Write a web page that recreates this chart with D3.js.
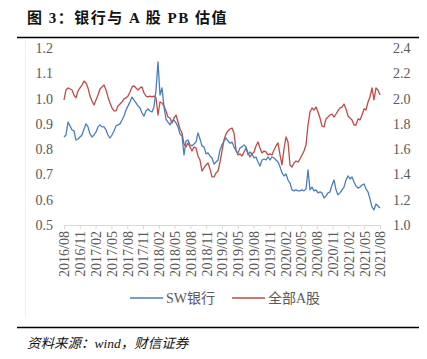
<!DOCTYPE html>
<html>
<head>
<meta charset="utf-8">
<script src="https://cdn.jsdelivr.net/npm/d3@7/dist/d3.min.js"></script>
<style>
  body { margin: 0; background: #fff; }
  svg { display: block; }
</style>
</head>
<body>
<div id="content"></div>
<script>
var width = 427;
var height = 359;

// quarterly tick labels
var tickLabels = ['2016/08', '2016/11', '2017/02', '2017/05', '2017/08', '2017/11',
                  '2018/02', '2018/05', '2018/08', '2018/11', '2019/02', '2019/05',
                  '2019/08', '2019/11', '2020/02', '2020/05', '2020/08', '2020/11',
                  '2021/02', '2021/05', '2021/08'];

// SW银行 PB (left axis), roughly every 11-12 days
var bankPB = [0.848, 0.856, 0.907, 0.892, 0.876, 0.872, 0.836, 0.840, 0.848, 0.856,
              0.880, 0.900, 0.888, 0.860, 0.848, 0.856, 0.868, 0.888, 0.896, 0.888,
              0.888, 0.876, 0.856, 0.844, 0.856, 0.872, 0.892, 0.896, 0.900, 0.915,
              0.931, 0.955, 0.971, 0.987, 1.006, 0.994, 0.983, 0.971, 0.963, 0.943,
              0.931, 0.951, 0.959, 0.951, 0.947, 0.967, 1.034, 1.145, 1.014, 1.042,
              0.967, 0.919, 0.907, 0.896, 0.911, 0.915, 0.904, 0.888, 0.860, 0.852,
              0.777, 0.832, 0.836, 0.817, 0.813, 0.820, 0.828, 0.864, 0.840, 0.813,
              0.809, 0.781, 0.785, 0.773, 0.765, 0.741, 0.749, 0.757, 0.797, 0.817,
              0.832, 0.844, 0.832, 0.824, 0.828, 0.809, 0.793, 0.785, 0.805, 0.809,
              0.817, 0.809, 0.777, 0.789, 0.781, 0.765, 0.769, 0.749, 0.733, 0.757,
              0.761, 0.757, 0.769, 0.757, 0.769, 0.765, 0.757, 0.749, 0.730, 0.706,
              0.694, 0.702, 0.678, 0.666, 0.639, 0.635, 0.639, 0.635, 0.635, 0.639,
              0.635, 0.643, 0.718, 0.639, 0.650, 0.635, 0.639, 0.627, 0.631, 0.627,
              0.607, 0.615, 0.627, 0.631, 0.658, 0.678, 0.639, 0.619, 0.627, 0.639,
              0.650, 0.678, 0.694, 0.682, 0.690, 0.670, 0.654, 0.646, 0.650, 0.658,
              0.662, 0.643, 0.631, 0.603, 0.571, 0.560, 0.583, 0.575, 0.567];

// 全部A股 PB (right axis)
var allAPB = [1.989, 2.068, 2.084, 2.076, 2.068, 2.028, 2.005, 2.060, 2.084, 2.107,
              2.139, 2.123, 2.084, 2.020, 1.981, 1.949, 1.989, 2.028, 2.076, 2.092,
              2.107, 2.068, 2.013, 1.965, 1.926, 1.902, 1.902, 1.941, 1.957, 1.973,
              1.997, 2.005, 2.020, 2.052, 2.092, 2.100, 2.084, 2.068, 2.084, 2.092,
              2.044, 2.020, 2.013, 2.020, 2.013, 2.020, 2.005, 1.870, 1.973, 1.965,
              1.941, 1.902, 1.854, 1.846, 1.807, 1.846, 1.870, 1.815, 1.759, 1.728,
              1.641, 1.617, 1.649, 1.617, 1.585, 1.617, 1.609, 1.546, 1.514, 1.427,
              1.451, 1.475, 1.491, 1.443, 1.380, 1.380, 1.411, 1.427, 1.498, 1.585,
              1.672, 1.720, 1.744, 1.759, 1.767, 1.728, 1.593, 1.554, 1.562, 1.546,
              1.578, 1.609, 1.570, 1.538, 1.562, 1.578, 1.625, 1.657, 1.609, 1.570,
              1.585, 1.578, 1.554, 1.562, 1.554, 1.593, 1.625, 1.649, 1.554, 1.475,
              1.601, 1.696, 1.657, 1.475, 1.459, 1.491, 1.506, 1.498, 1.522, 1.554,
              1.585, 1.633, 1.791, 1.894, 1.926, 1.910, 1.933, 1.894, 1.846, 1.783,
              1.775, 1.839, 1.854, 1.870, 1.878, 1.854, 1.878, 1.902, 1.926, 1.933,
              1.957, 1.918, 1.862, 1.846, 1.831, 1.791, 1.791, 1.839, 1.831, 1.870,
              1.918, 1.910, 1.973, 2.013, 2.084, 1.989, 2.084, 2.068, 2.028];

var leftTicks = [0.5, 0.6, 0.7, 0.8, 0.9, 1.0, 1.1, 1.2];
var rightTicks = [1.0, 1.2, 1.4, 1.6, 1.8, 2.0, 2.2, 2.4];

var seriesNames = ['SW银行', '全部A股'];
var seriesColors = ['#4a7ebb', '#be4b48'];

var plot = {left: 64, right: 380, top: 48, bottom: 225};
var labelFont = '"Liberation Serif", "Times New Roman", serif';
var cjkFont = '"Liberation Serif", "Noto Sans CJK SC", serif';

var svg = d3.select('div#content').append('svg')
    .attr('width', width)
    .attr('height', height)
    .attr('viewBox', '0 0 ' + width + ' ' + height);

var x = d3.scaleLinear()
    .domain([0, bankPB.length - 1])
    .range([plot.left, plot.right]);

var xLab = d3.scalePoint()
    .domain(tickLabels)
    .range([plot.left, plot.right]);

var yLeft = d3.scaleLinear()
    .domain([0.5, 1.2])
    .range([plot.bottom, plot.top]);

var yRight = d3.scaleLinear()
    .domain([1.0, 2.4])
    .range([plot.bottom, plot.top]);

// title
svg.append('text')
    .attr('x', 27)
    .attr('y', 23)
    .attr('font-family', cjkFont)
    .attr('font-weight', 'bold')
    .attr('font-size', 15)
    .attr('letter-spacing', 1.5)
    .attr('fill', '#111')
    .text('图 3：银行与 A 股 PB 估值');

svg.append('line')
    .attr('x1', 17).attr('x2', 419)
    .attr('y1', 37.5).attr('y2', 37.5)
    .attr('stroke', '#000')
    .attr('stroke-width', 1.5);

// faint chart frame edge
svg.append('line')
    .attr('x1', 25.5).attr('x2', 25.5)
    .attr('y1', 40).attr('y2', 317)
    .attr('stroke', '#f0f0f0');

// left axis
var leftAxis = svg.append('g')
    .attr('transform', 'translate(' + plot.left + ',0)')
    .call(d3.axisLeft(yLeft).tickValues(leftTicks).tickFormat(d3.format('.1f')).tickSize(0).tickPadding(11));
leftAxis.select('.domain').remove();

var rightAxis = svg.append('g')
    .attr('transform', 'translate(' + plot.right + ',0)')
    .call(d3.axisRight(yRight).tickValues(rightTicks).tickFormat(d3.format('.1f')).tickSize(0).tickPadding(13));
rightAxis.select('.domain').remove();

svg.selectAll('.tick text')
    .attr('font-family', labelFont)
    .attr('font-size', 14)
    .attr('fill', '#595959');

// x axis
var xAxis = svg.append('g')
    .attr('transform', 'translate(0,' + plot.bottom + ')')
    .call(d3.axisBottom(xLab).tickSize(4).tickPadding(2));
xAxis.select('.domain')
    .attr('stroke', '#d9d9d9');
xAxis.selectAll('.tick line')
    .attr('stroke', '#d9d9d9');
xAxis.selectAll('.tick text')
    .attr('font-family', labelFont)
    .attr('font-size', 14)
    .attr('fill', '#595959')
    .attr('text-anchor', 'end')
    .attr('dy', '0.35em')
    .attr('transform', 'translate(0,6) rotate(-90)')
    .attr('x', 0)
    .attr('y', 0);

// lines
var bankLine = d3.line()
    .x(function(d, i) { return x(i); })
    .y(function(d) { return yLeft(d); });

var allLine = d3.line()
    .x(function(d, i) { return x(i); })
    .y(function(d) { return yRight(d); });

svg.append('path')
    .datum(allAPB)
    .attr('d', allLine)
    .attr('fill', 'none')
    .attr('stroke', seriesColors[1])
    .attr('stroke-width', 1.3)
    .attr('stroke-linejoin', 'round');

svg.append('path')
    .datum(bankPB)
    .attr('d', bankLine)
    .attr('fill', 'none')
    .attr('stroke', seriesColors[0])
    .attr('stroke-width', 1.3)
    .attr('stroke-linejoin', 'round');

// legend
var legendX = [130, 232];
var legend = svg.selectAll('g.legend')
    .data(seriesNames).enter()
    .append('g')
        .attr('class', 'legend')
        .attr('transform', function(d, i) { return 'translate(' + legendX[i] + ',298)'; });

legend.append('line')
    .attr('x1', 0).attr('x2', 33)
    .attr('y1', 0).attr('y2', 0)
    .attr('stroke', function(d, i) { return seriesColors[i]; })
    .attr('stroke-width', 1.5);

legend.append('text')
    .attr('x', 36)
    .attr('y', 5)
    .attr('font-family', cjkFont)
    .attr('font-size', 14)
    .attr('fill', '#595959')
    .text(function(d) { return d; });

// source
svg.append('line')
    .attr('x1', 17).attr('x2', 419)
    .attr('y1', 327.5).attr('y2', 327.5)
    .attr('stroke', '#000')
    .attr('stroke-width', 1.5);

svg.append('text')
    .attr('x', 27)
    .attr('y', 348)
    .attr('font-family', cjkFont)
    .attr('font-style', 'italic')
    .attr('font-size', 13.5)
    .attr('fill', '#111')
    .text('资料来源：wind，财信证券');
</script>
</body>
</html>
